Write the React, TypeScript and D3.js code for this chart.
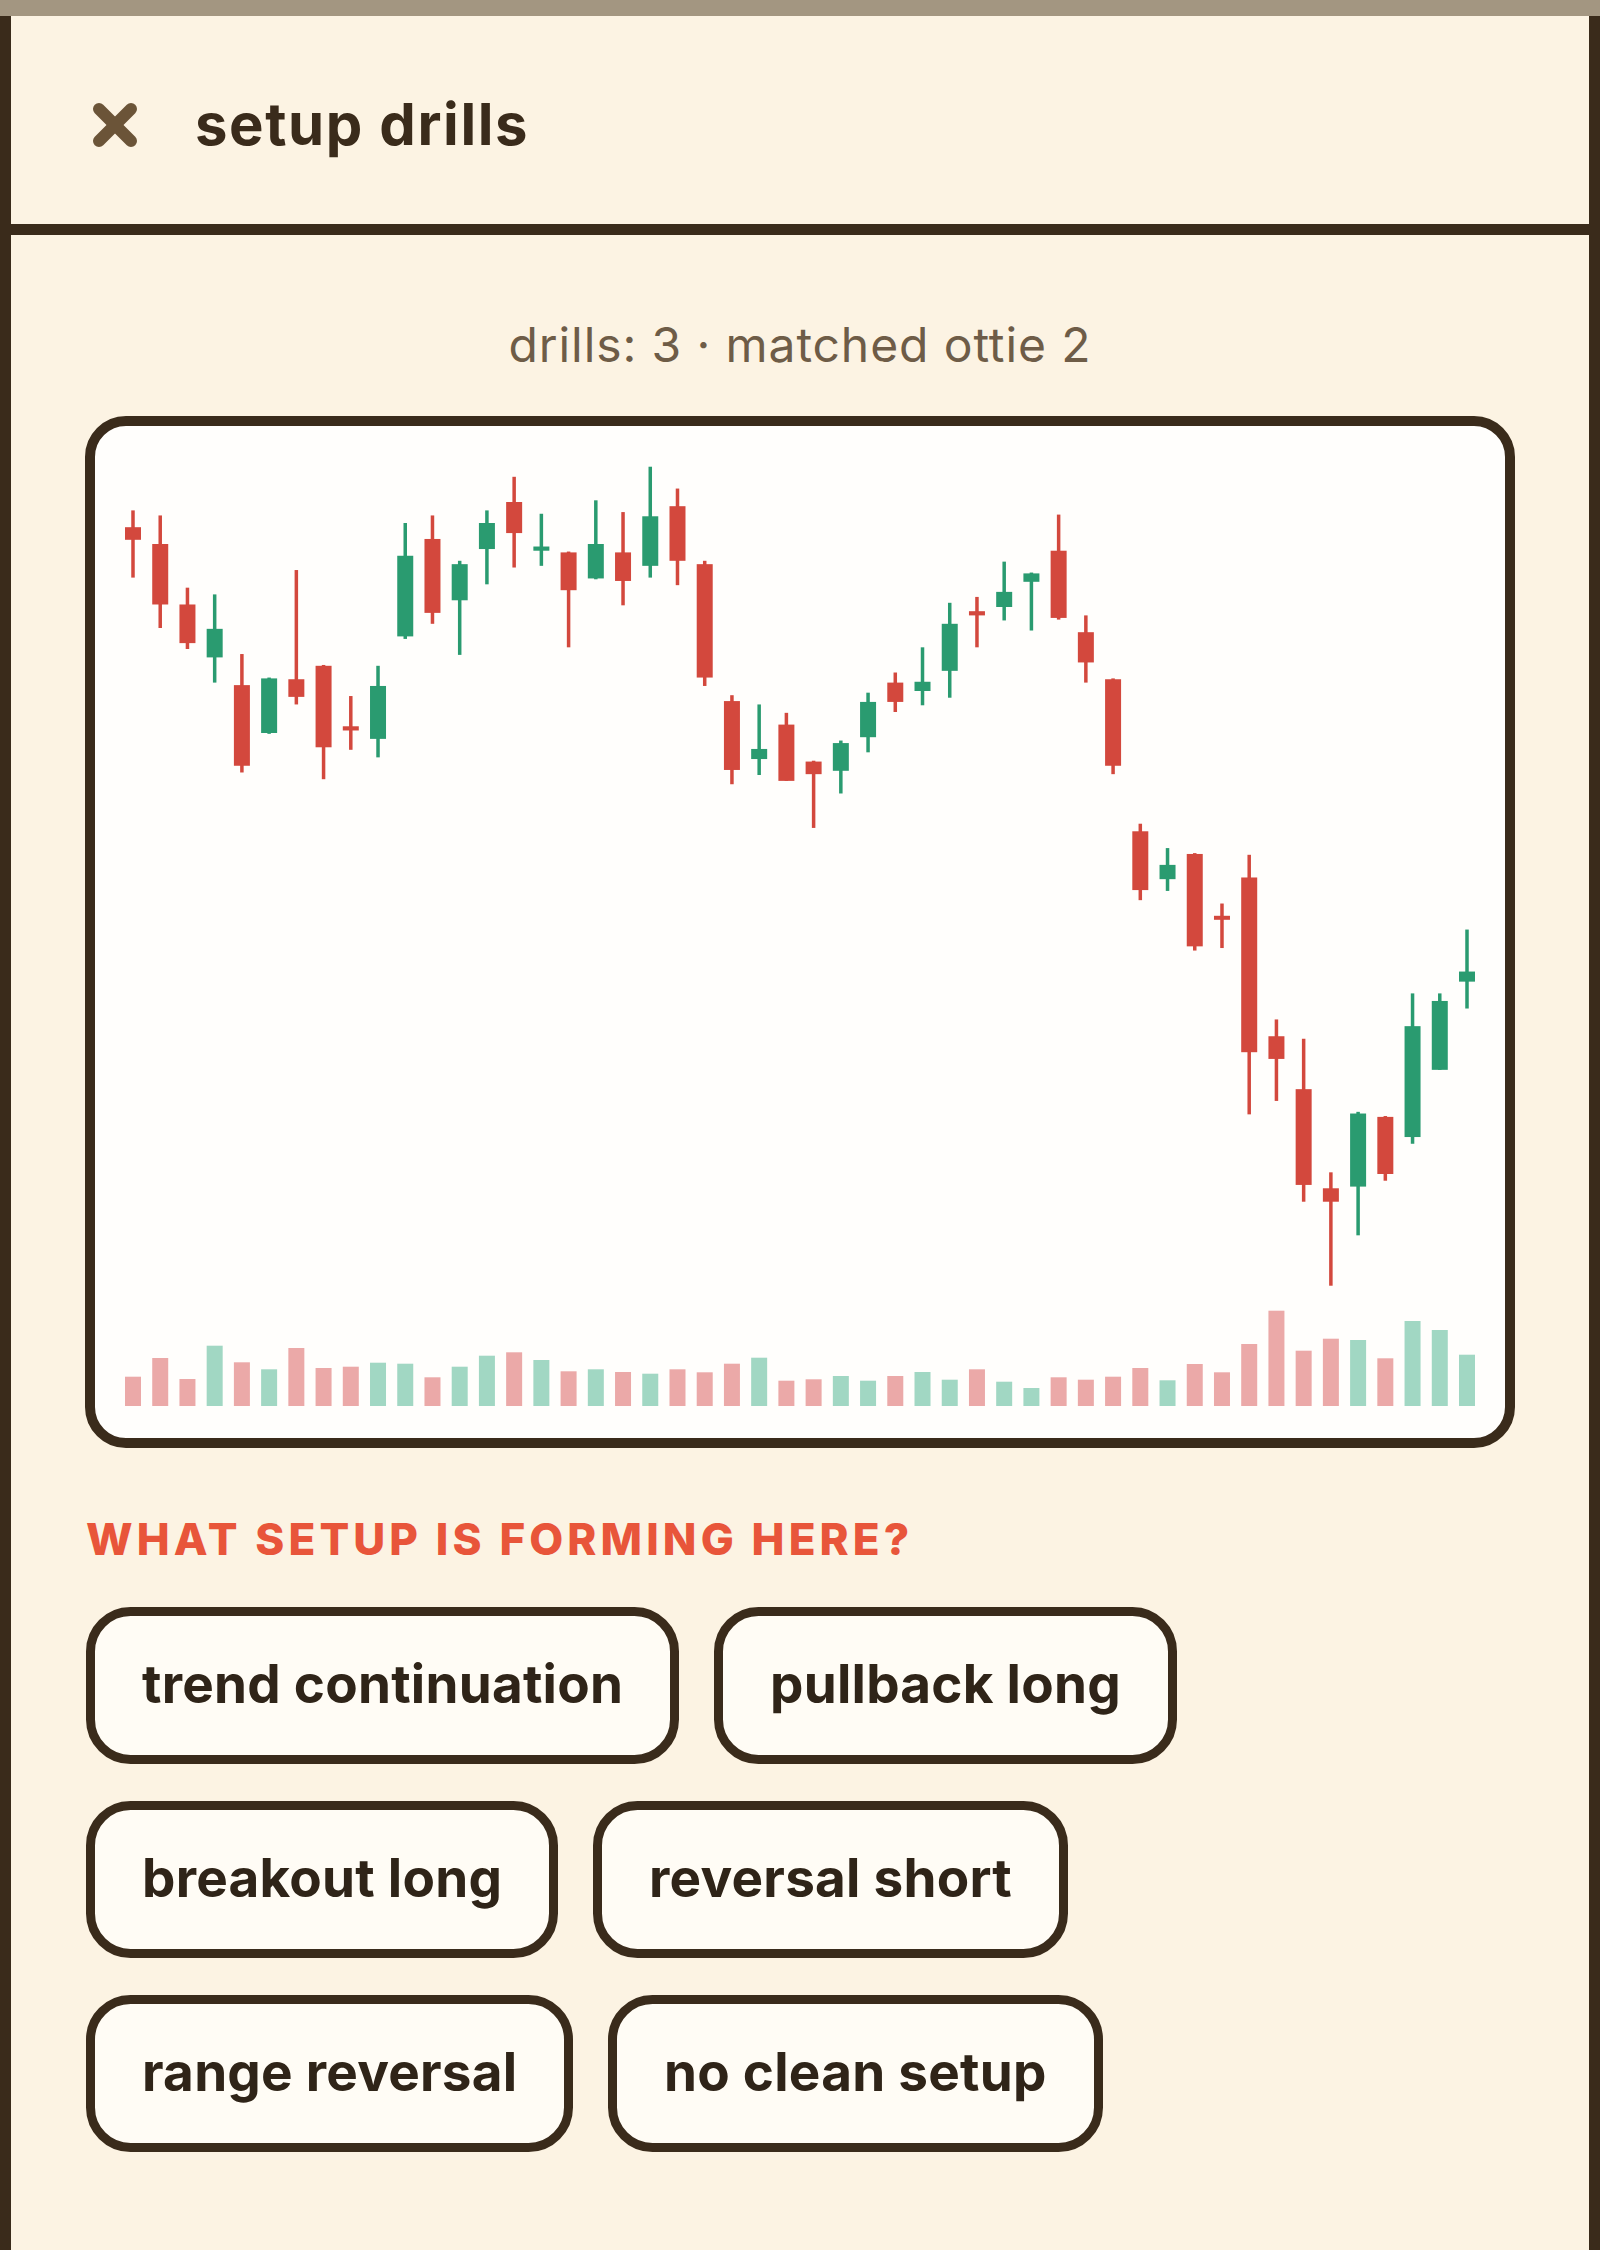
import React, { useMemo } from "react";
import * as d3 from "d3";

// ---------- DATA ----------
const opens = [192.0, 190.0, 182.8, 176.5, 173.2, 167.5, 173.9, 175.5, 168.3, 166.8, 179.0, 190.6, 183.3, 189.4, 195.0, 189.2, 189.0, 185.9, 189.0, 187.4, 194.5, 187.6, 171.3, 164.4, 168.5, 164.1, 163.0, 167.0, 173.5, 172.5, 174.9, 182.0, 182.5, 185.5, 189.2, 179.5, 173.9, 155.8, 150.1, 153.1, 145.7, 150.3, 131.4, 125.1, 113.3, 113.5, 121.8, 119.4, 127.4, 137.9];
const highs = [194.0, 193.4, 184.8, 184.0, 176.9, 174.1, 186.9, 175.6, 171.9, 175.5, 192.5, 193.4, 188.0, 194.0, 198.0, 193.6, 189.1, 195.2, 193.8, 199.2, 196.6, 188.0, 172.0, 170.9, 169.9, 164.2, 166.6, 172.3, 174.7, 177.7, 183.0, 183.7, 187.9, 186.6, 193.5, 181.5, 174.0, 156.7, 153.8, 153.2, 147.2, 153.0, 133.4, 131.1, 115.2, 122.4, 121.9, 136.5, 136.5, 144.1];
const lows = [186.0, 180.0, 177.5, 173.5, 162.8, 167.4, 170.9, 162.0, 165.5, 164.6, 178.7, 180.5, 176.8, 185.2, 187.2, 187.4, 177.7, 185.8, 182.7, 186.0, 185.1, 173.1, 161.4, 162.5, 161.8, 156.2, 160.3, 165.2, 170.0, 170.8, 171.7, 177.7, 180.9, 179.7, 181.0, 173.5, 162.6, 147.6, 148.7, 141.6, 141.9, 122.1, 123.7, 111.7, 101.7, 107.7, 114.2, 118.6, 127.4, 134.7];
const closes = [190.5, 182.8, 178.2, 179.9, 163.6, 174.0, 171.8, 165.8, 167.8, 173.1, 188.6, 181.8, 187.6, 192.5, 191.3, 189.7, 184.5, 190.0, 185.6, 193.3, 188.0, 174.1, 163.1, 165.6, 161.8, 162.6, 166.3, 171.2, 171.2, 173.6, 180.5, 181.5, 184.3, 186.5, 181.2, 175.9, 163.6, 148.8, 151.8, 142.1, 145.3, 129.5, 128.7, 113.7, 111.7, 122.2, 115.0, 132.6, 135.6, 139.1];
const volumes = [29.3, 48.0, 27.0, 60.3, 43.7, 36.7, 58.0, 38.0, 39.3, 43.3, 42.3, 28.7, 39.3, 50.3, 53.7, 46.0, 34.7, 36.7, 34.0, 32.3, 36.7, 33.7, 42.3, 48.3, 25.3, 26.7, 30.0, 25.3, 30.0, 34.0, 26.3, 36.7, 24.3, 18.0, 28.7, 26.3, 29.3, 38.0, 25.7, 42.0, 33.7, 62.0, 95.3, 55.3, 67.3, 66.0, 47.7, 85.0, 76.0, 51.3];

const titleText = "setup drills";
const subtitleText = "drills: 3 · matched ottie 2";
const questionText = "WHAT SETUP IS FORMING HERE?";
const answerLabels = ["trend continuation", "pullback long", "breakout long", "reversal short", "range reversal", "no clean setup"];

// ---------- STYLE ----------
const C = {
  bg: "#fcf3e3",
  topBar: "#a39681",
  dark: "#3a2b1b",
  xIcon: "#6b5438",
  sub: "#6e5c47",
  red: "#d3483d",
  green: "#2a9b70",
  volRed: "#eba9a8",
  volGreen: "#a1d7c3",
  card: "#fffefc",
  btn: "#fffcf5",
  btnText: "#2f2418",
  question: "#e8553a",
};
const FONT = "Inter, 'Noto Sans', sans-serif";
const BTN_FONT_SIZE = 53;
const BTN_LS = 0.25;

function measure(text: string, font: string): number {
  if (typeof document === "undefined") return text.length * 28;
  const cv = document.createElement("canvas");
  const ctx = cv.getContext("2d");
  if (!ctx) return text.length * 28;
  ctx.font = font;
  return ctx.measureText(text).width;
}

export default function App() {
  const W = 1600;
  const H = 2250;

  const idx = d3.range(opens.length);
  const x = d3.scalePoint<number>().domain(idx).range([133, 1467]);
  const y = d3.scaleLinear().domain([100, 200]).range([1300, 460]);
  const yv = d3.scaleLinear().domain([0, 100]).range([1406, 1306]);

  const bodyW = 16;
  const wickW = 3.5;
  const volW = 16;

  const buttons = useMemo(() => {
    const font = `700 ${BTN_FONT_SIZE}px Inter`;
    const left = 86;
    const right = 1514;
    const gap = 35;
    const bh = 157;
    const rowStep = 194;
    let cx = left;
    let row = 0;
    const out: { label: string; x: number; y: number; w: number; h: number }[] = [];
    answerLabels.forEach((label) => {
      const w = Math.round(measure(label, font) + label.length * BTN_LS) + 112;
      if (cx > left && cx + w > right) {
        row += 1;
        cx = left;
      }
      out.push({ label, x: cx, y: 1607 + row * rowStep, w, h: bh });
      cx += w + gap;
    });
    return out;
  }, []);

  return (
    <svg
      width={W}
      height={H}
      viewBox={`0 0 ${W} ${H}`}
      style={{ position: "absolute", left: 0, top: 0, display: "block" }}
      fontFamily={FONT}
    >
      <rect x={0} y={0} width={W} height={H} fill={C.bg} />
      <rect x={0} y={0} width={W} height={16} fill={C.topBar} />
      <rect x={0} y={16} width={11} height={H - 16} fill={C.dark} />
      <rect x={1589} y={16} width={11} height={H - 16} fill={C.dark} />
      <rect x={0} y={224} width={W} height={11} fill={C.dark} />

      {/* header */}
      <g stroke={C.xIcon} strokeWidth={12} strokeLinecap="round">
        <line x1={99} y1={109} x2={131} y2={141} />
        <line x1={131} y1={109} x2={99} y2={141} />
      </g>
      <text x={195} y={145} fontSize={58} fontWeight={700} fill={C.dark} letterSpacing={1.6}>
        {titleText}
      </text>

      <text x={800} y={362} fontSize={48} fontWeight={400} fill={C.sub} textAnchor="middle" letterSpacing={0.9}>
        {subtitleText}
      </text>

      {/* chart card */}
      <rect x={90} y={421} width={1420} height={1022} rx={36} ry={36} fill={C.card} stroke={C.dark} strokeWidth={10} />

      {/* volume */}
      <g>
        {idx.map((i) => (
          <rect
            key={`v${i}`}
            x={(x(i) as number) - volW / 2}
            y={yv(volumes[i])}
            width={volW}
            height={yv(0) - yv(volumes[i])}
            fill={closes[i] >= opens[i] ? C.volGreen : C.volRed}
          />
        ))}
      </g>

      {/* candles */}
      <g>
        {idx.map((i) => {
          const up = closes[i] >= opens[i];
          const col = up ? C.green : C.red;
          const cx = x(i) as number;
          const top = y(Math.max(opens[i], closes[i]));
          const bot = y(Math.min(opens[i], closes[i]));
          const bh = Math.max(bot - top, 4);
          return (
            <g key={`c${i}`}>
              <rect x={cx - wickW / 2} y={y(highs[i])} width={wickW} height={y(lows[i]) - y(highs[i])} fill={col} />
              <rect x={cx - bodyW / 2} y={(top + bot) / 2 - bh / 2} width={bodyW} height={bh} fill={col} />
            </g>
          );
        })}
      </g>

      {/* question */}
      <text x={86} y={1555} fontSize={44} fontWeight={800} fill={C.question} letterSpacing={4.1}>
        {questionText}
      </text>

      {buttons.map((b) => (
        <g key={b.label}>
          <rect
            x={b.x + 4.5}
            y={b.y + 4.5}
            width={b.w - 9}
            height={b.h - 9}
            rx={40}
            ry={40}
            fill={C.btn}
            stroke={C.dark}
            strokeWidth={9}
          />
          <text x={b.x + 56} y={b.y + 96} fontSize={BTN_FONT_SIZE} fontWeight={700} fill={C.btnText} letterSpacing={BTN_LS}>
            {b.label}
          </text>
        </g>
      ))}
    </svg>
  );
}
